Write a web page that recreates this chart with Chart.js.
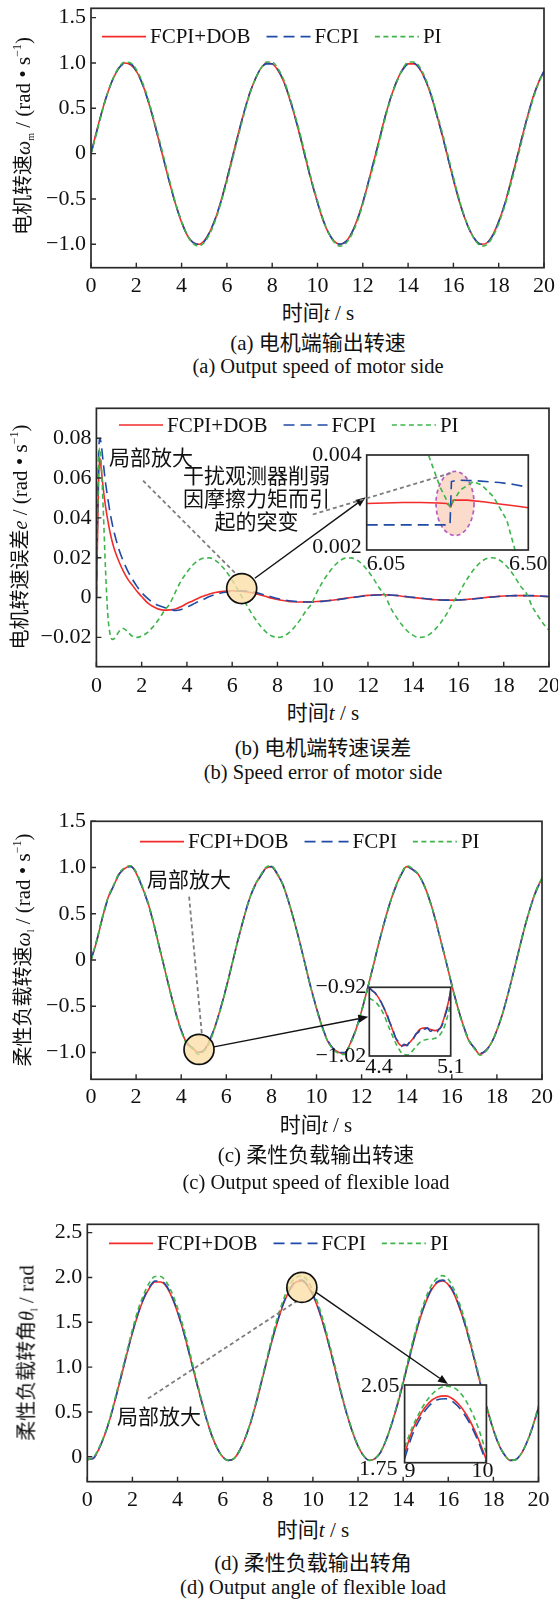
<!DOCTYPE html>
<html lang="zh">
<head>
<meta charset="utf-8">
<title>FCPI+DOB 仿真结果</title>
<script src="https://cdn.jsdelivr.net/npm/chart.js"></script>
<style>
  body { margin: 0; background: #fff; }
  #page { position: relative; width: 558px; height: 1600px; overflow: hidden;
          font-family: "Liberation Serif", "Noto Sans CJK SC", serif; color: #111; }
  canvas { position: absolute; left: 0; }
  .t { position: absolute; white-space: nowrap; transform: translate(-50%, -50%); line-height: 1; }
  .xt, .cap { font-size: 21px; }
  .en { font-size: 20.5px; }
  .yt { font-size: 20px; transform: translate(-50%, -50%) rotate(-90deg); }
  .yt .l { font-size: 21px; }
  sub { font-size: 10px; vertical-align: -4px; }
  sup { font-size: 12px; vertical-align: 9px; }
</style>
</head>
<body>
<div id="page">
  <canvas id="cA" width="558" height="300" style="top:0px"></canvas>
  <canvas id="cB" width="558" height="300" style="top:400px"></canvas>
  <canvas id="cBi" width="558" height="300" style="top:400px"></canvas>
  <canvas id="cC" width="558" height="300" style="top:813px"></canvas>
  <canvas id="cCi" width="558" height="300" style="top:813px"></canvas>
  <canvas id="cD" width="558" height="300" style="top:1216px"></canvas>
  <canvas id="cDi" width="558" height="300" style="top:1216px"></canvas>

  <div class="t yt" style="left:23px;top:136px">电机转速<i>ω</i><sub>m</sub><span class="l"> / (rad • s<sup>−1</sup>)</span></div>
  <div class="t xt" style="left:318px;top:313px">时间<i>t</i> / s</div>
  <div class="t cap" style="left:318px;top:343px">(a) 电机端输出转速</div>
  <div class="t en" style="left:318px;top:366px">(a) Output speed of motor side</div>

  <div class="t yt" style="left:19px;top:537px">电机转速误差<i>e</i><span class="l"> / (rad • s<sup>−1</sup>)</span></div>
  <div class="t xt" style="left:323px;top:713px">时间<i>t</i> / s</div>
  <div class="t cap" style="left:323px;top:748px">(b) 电机端转速误差</div>
  <div class="t en" style="left:323px;top:772px">(b) Speed error of motor side</div>

  <div class="t yt" style="left:23px;top:950px">柔性负载转速<i>ω</i><sub>l</sub><span class="l"> / (rad • s<sup>−1</sup>)</span></div>
  <div class="t xt" style="left:316px;top:1125px">时间<i>t</i> / s</div>
  <div class="t cap" style="left:316px;top:1155px">(c) 柔性负载输出转速</div>
  <div class="t en" style="left:316px;top:1182px">(c) Output speed of flexible load</div>

  <div class="t yt" style="left:28px;top:1353px">柔性负载转角<i>θ</i><sub>l</sub><span class="l"> / rad</span></div>
  <div class="t xt" style="left:313px;top:1530px">时间<i>t</i> / s</div>
  <div class="t cap" style="left:313px;top:1563px">(d) 柔性负载输出转角</div>
  <div class="t en" style="left:313px;top:1587px">(d) Output angle of flexible load</div>
</div>
<script>
// ---- data ----
const seriesNames = ['FCPI+DOB', 'FCPI', 'PI'];

const tGrid = [0,0.25,0.5,0.75,1,1.25,1.5,1.75,2,2.25,2.5,2.75,3,3.25,3.5,3.75,4,4.25,4.5,4.75,
  5,5.25,5.5,5.75,6,6.25,6.5,6.75,7,7.25,7.5,7.75,8,8.25,8.5,8.75,9,9.25,9.5,9.75,
  10,10.25,10.5,10.75,11,11.25,11.5,11.75,12,12.25,12.5,12.75,13,13.25,13.5,13.75,14,14.25,14.5,14.75,
  15,15.25,15.5,15.75,16,16.25,16.5,16.75,17,17.25,17.5,17.75,18,18.25,18.5,18.75,19,19.25,19.5,19.75,20];

// (a) motor speed
const speedDob = [0,0.25,0.48,0.68,0.84,0.95,1.0,0.98,0.91,0.78, 0.6,0.38,0.14,-0.11,-0.35,-0.57,-0.76,-0.9,-0.98,-1.0,
  -0.96,-0.86,-0.71,-0.51,-0.28,-0.03,0.22,0.45,0.66,0.82, 0.94,1.0,0.99,0.92,0.8,0.62,0.41,0.17,-0.08,-0.32,
  -0.54,-0.74,-0.88,-0.97,-1.0,-0.97,-0.88,-0.73,-0.54,-0.31, -0.07,0.18,0.42,0.63,0.8,0.93,0.99,0.99,0.94,0.82,
  0.65,0.44,0.21,-0.04,-0.29,-0.52,-0.71,-0.86,-0.96,-1.0, -0.98,-0.89,-0.75,-0.57,-0.34,-0.1,0.15,0.39,0.61,0.78,0.91];
const speedFcpi = [0,0.24,0.48,0.68,0.84,0.95,0.99,0.99,0.91,0.78, 0.6,0.39,0.14,-0.1,-0.35,-0.57,-0.75,-0.9,-0.98,-1.0,
  -0.97,-0.86,-0.71,-0.52,-0.28,-0.04,0.21,0.45,0.66,0.82, 0.94,0.99,0.99,0.93,0.8,0.63,0.41,0.18,-0.08,-0.32,
  -0.54,-0.73,-0.88,-0.97,-1.0,-0.97,-0.88,-0.74,-0.54,-0.31, -0.07,0.17,0.42,0.63,0.8,0.92,0.99,1.0,0.94,0.82,
  0.66,0.44,0.21,-0.04,-0.28,-0.51,-0.71,-0.86,-0.96,-1.0, -0.98,-0.9,-0.75,-0.57,-0.35,-0.1,0.15,0.39,0.6,0.78,0.91];
const speedPi = [0,0.23,0.47,0.68,0.84,0.96,1.01,1.0,0.93,0.8, 0.62,0.4,0.17,-0.08,-0.33,-0.56,-0.75,-0.9,-0.99,-1.02,
  -0.98,-0.88,-0.73,-0.53,-0.31,-0.06,0.19,0.43,0.65,0.82, 0.94,1.01,1.01,0.94,0.82,0.64,0.43,0.2,-0.05,-0.3,
  -0.52,-0.73,-0.88,-0.98,-1.02,-0.99,-0.9,-0.75,-0.56,-0.33, -0.1,0.15,0.4,0.62,0.79,0.93,1.01,1.01,0.96,0.84,
  0.67,0.46,0.24,-0.01,-0.26,-0.5,-0.7,-0.86,-0.97,-1.02, -1.0,-0.91,-0.77,-0.59,-0.37,-0.13,0.12,0.37,0.59,0.77,0.91];

// (b) motor speed error
const tErr = [0,0.05,0.1,0.15,0.2,0.3,0.4,0.5,0.6,0.7,0.8,1,1.2,1.4,1.6,1.8,2,
  2.25,2.5,2.75,3,3.25,3.5,3.75,4,4.25,4.5,4.75, 5,5.25,5.5,5.75,6,6.25,6.5,6.75,7,7.25,7.5,
  7.75,8,8.25,8.5,8.75,9,9.25,9.5,9.75,10,10.25, 10.5,10.75,11,11.25,11.5,11.75,12,12.25,12.5,12.75,13,
  13.25,13.5,13.75,14,14.25,14.5,14.75,15,15.25,15.5,15.75, 16,16.25,16.5,16.75,17,17.25,17.5,17.75,18,18.25,18.5,
  18.75,19,19.25,19.5,19.75,20];
const errDob = [0,0.03,0.06,0.07,0.066,0.055,0.046,0.039,0.033,0.028,0.024,0.018,0.013,0.009,0.006,0.003,0.0005,
  -0.0025,-0.0045,-0.0058,-0.0063,-0.0062,-0.0057,-0.0045,-0.003,-0.0017,-0.0003,0.0008,
  0.0018,0.0025,0.003,0.0033,0.0034,0.0033,0.0031,0.0027,0.0021,0.0013,0.0005,
  -0.0003,-0.001,-0.0015,-0.0019,-0.0021,-0.0022,-0.0022,-0.0021,-0.002,-0.0018,-0.0015,
  -0.0012,-0.0008,-0.0004,0,0.0004,0.0008,0.0011,0.0013,0.0014,0.0014,0.0012,
  0.001,0.0007,0.0003,0,-0.0003,-0.0006,-0.0009,-0.0011,-0.0012,-0.0013,-0.0013,
  -0.0012,-0.001,-0.0008,-0.0005,-0.0002,0.0001,0.0004,0.0006,0.0008,0.0009,0.001,
  0.001,0.001,0.0009,0.0008,0.0006,0.0004];
const errFcpi = [0,0.04,0.072,0.08,0.078,0.068,0.058,0.05,0.043,0.037,0.032,0.024,0.018,0.013,0.009,0.0055,0.0025,
  -0.0003,-0.0025,-0.004,-0.005,-0.0058,-0.0065,-0.006,-0.0048,-0.0035,-0.002,-0.0008,
  0.0005,0.0015,0.0023,0.0028,0.0031,0.0033,0.0033,0.0031,0.0026,0.0019,0.0011,
  0.0003,-0.0005,-0.0011,-0.0016,-0.0019,-0.0021,-0.0022,-0.0022,-0.0021,-0.0019,-0.0016,
  -0.0013,-0.0009,-0.0005,-0.0001,0.0003,0.0007,0.001,0.0012,0.0013,0.0014,0.0013,
  0.0011,0.0008,0.0004,0.0001,-0.0002,-0.0005,-0.0008,-0.001,-0.0012,-0.0013,-0.0013,
  -0.0012,-0.0011,-0.0009,-0.0006,-0.0003,0,0.0003,0.0005,0.0007,0.0009,0.001,
  0.001,0.001,0.001,0.0009,0.0007,0.0005];
const errPi = [0,0.04,0.068,0.075,0.07,0.045,0.015,-0.008,-0.018,-0.021,-0.0205,-0.017,-0.0155,-0.0175,-0.0195,-0.02,-0.0193,
  -0.0176,-0.0147,-0.011,-0.0067,-0.003,0.003,0.0085,0.0127,0.0162,0.0186,0.0198,
  0.0199,0.0187,0.0163,0.0129,0.0087,0.004,-0.001,-0.0059,-0.0104,-0.0143,-0.0173,
  -0.0193,-0.02,-0.0195,-0.0177,-0.0149,-0.0112,-0.0068,-0.0032,0.0028,0.0079,0.0122,
  0.0158,0.0184,0.0198,0.0199,0.0189,0.0167,0.0134,0.0094,0.0048,0.0012,-0.0051,
  -0.0097,-0.0137,-0.0169,-0.019,-0.02,-0.0197,-0.0182,-0.0156,-0.0121,-0.0078,-0.0025,
  0.0015,0.0069,0.0113,0.0151,0.0179,0.0196,0.02,0.0192,0.0172,0.0141,0.0102,
  0.0056,0.0022,-0.0043,-0.009,-0.0131,-0.0164];

// (b) zoom window 6.05 - 6.50 s
const zoomErrDobT = [6.05,6.1,6.15,6.2,6.25,6.273,6.284,6.291,6.33,6.38,6.42,6.46,6.5];
const zoomErrDob  = [0.00298,0.00299,0.003,0.003,0.00299,0.00298,0.00291,0.00305,0.00305,0.00301,0.00297,0.00293,0.00289];
const zoomErrFcpiT = [6.05,6.2,6.282,6.286,6.3,6.35,6.42,6.46,6.5];
const zoomErrFcpi  = [0.00253,0.00253,0.00253,0.00344,0.00347,0.00346,0.00342,0.00338,0.00332];
const zoomErrPiT = [6.15,6.2,6.222,6.254,6.282,6.31,6.347,6.37,6.403,6.44,6.463,6.48];
const zoomErrPi  = [0.0055,0.0045,0.004,0.00333,0.00291,0.00326,0.00344,0.00337,0.00312,0.00263,0.002,0.0016];

// (c) load speed
const loadDob = [0,0.2,0.45,0.67,0.8,0.93,0.99,1.02,0.94,0.8, 0.64,0.42,0.17,-0.08,-0.33,-0.56,-0.76,-0.9,-0.95,-1.0,
  -0.98,-0.88,-0.72,-0.52,-0.3,-0.05,0.2,0.43,0.64,0.8, 0.9,0.99,1.01,0.93,0.82,0.64,0.43,0.2,-0.05,-0.3,
  -0.52,-0.72,-0.88,-0.96,-1.0,-1.01,-0.9,-0.75,-0.55,-0.32, -0.08,0.17,0.4,0.61,0.79,0.92,1.01,0.98,0.93,0.82,
  0.66,0.46,0.22,-0.02,-0.27,-0.5,-0.7,-0.87,-0.95,-1.02, -0.98,-0.9,-0.76,-0.58,-0.36,-0.12,0.13,0.37,0.58,0.76,0.88];
const loadFcpi = [0,0.21,0.45,0.66,0.8,0.93,0.99,1.01,0.95,0.8, 0.63,0.42,0.17,-0.08,-0.33,-0.57,-0.76,-0.89,-0.95,-1.0,
  -0.98,-0.87,-0.72,-0.52,-0.29,-0.05,0.2,0.43,0.64,0.79, 0.9,0.99,1.01,0.94,0.82,0.64,0.43,0.2,-0.05,-0.3,
  -0.52,-0.72,-0.87,-0.96,-1.0,-1.0,-0.9,-0.75,-0.55,-0.32, -0.08,0.17,0.4,0.61,0.78,0.92,1.01,0.98,0.93,0.82,
  0.66,0.45,0.22,-0.02,-0.27,-0.5,-0.7,-0.86,-0.95,-1.01, -0.98,-0.9,-0.76,-0.58,-0.36,-0.12,0.13,0.37,0.58,0.75,0.88];
const loadPi = [0,0.21,0.46,0.67,0.81,0.94,1.0,1.02,0.95,0.81, 0.64,0.43,0.17,-0.08,-0.33,-0.57,-0.77,-0.91,-0.96,-1.02,
  -0.99,-0.89,-0.73,-0.53,-0.3,-0.05,0.2,0.43,0.64,0.8, 0.91,1.0,1.02,0.94,0.82,0.64,0.43,0.2,-0.05,-0.3,
  -0.53,-0.73,-0.88,-0.97,-1.01,-1.02,-0.91,-0.76,-0.55,-0.32, -0.08,0.17,0.4,0.61,0.79,0.93,1.02,0.99,0.93,0.82,
  0.66,0.46,0.22,-0.02,-0.27,-0.51,-0.71,-0.87,-0.96,-1.03, -0.99,-0.9,-0.76,-0.58,-0.36,-0.12,0.13,0.37,0.58,0.76,0.89];

// (c) zoom window 4.4 - 5.1 s
const zoomLoadDobT = [4.4,4.463,4.52,4.578,4.635,4.678,4.72,4.779,4.836,4.879,4.922,4.965,5.008,5.051,5.094,5.1];
const zoomLoadDob  = [-0.921,-0.931,-0.948,-0.972,-0.997,-1.005,-1.004,-0.994,-0.981,-0.979,-0.981,-0.983,-0.98,-0.96,-0.931,-0.925];
const zoomLoadFcpiT = [4.4,4.425,4.45,4.475,4.5,4.525,4.55,4.575,4.6,4.625,4.65,4.675,4.7,4.725,4.75,4.775,4.8,4.825,4.85,4.875,4.9,4.925,4.95,4.975,5,5.025,5.05,5.075,5.1];
const zoomLoadFcpi  = [-0.92,-0.925,-0.928,-0.935,-0.941,-0.95,-0.958,-0.971,-0.98,-0.993,-0.999,-1.006,-1.003,-1.005,-0.998,-0.996,-0.988,-0.985,-0.978,-0.981,-0.979,-0.984,-0.982,-0.986,-0.981,-0.976,-0.962,-0.948,-0.924];
const zoomLoadPiT = [4.4,4.463,4.52,4.578,4.635,4.693,4.736,4.779,4.836,4.893,4.95,5.008,5.051,5.094,5.1];
const zoomLoadPi  = [-0.936,-0.943,-0.958,-0.982,-1.004,-1.0176,-1.0185,-1.011,-1.0,-0.996,-0.995,-0.989,-0.975,-0.948,-0.944];

// (d) load angle
const angleDob = [-0.03,-0.02,0.08,0.23,0.42,0.65,0.89,1.14,1.38,1.59, 1.76,1.88,1.95,1.95,1.9,1.78,1.61,1.41,1.17,0.92,
  0.68,0.45,0.25,0.1,0.0,-0.04,-0.02,0.07,0.21,0.39, 0.61,0.86,1.11,1.35,1.56,1.74,1.87,1.95,1.96,1.91,
  1.8,1.64,1.44,1.21,0.96,0.71,0.48,0.28,0.12,0.01, -0.04,-0.02,0.05,0.19,0.37,0.58,0.82,1.07,1.32,1.54,
  1.72,1.86,1.94,1.96,1.92,1.82,1.66,1.47,1.24,0.99, 0.74,0.51,0.3,0.13,0.02,-0.04,-0.03,0.04,0.17,0.34,0.55];
const angleFcpi = [-0.03,-0.02,0.08,0.23,0.42,0.65,0.9,1.15,1.39,1.6, 1.77,1.89,1.96,1.96,1.91,1.79,1.62,1.41,1.17,0.92,
  0.68,0.45,0.25,0.1,0.0,-0.04,-0.02,0.07,0.21,0.39, 0.62,0.87,1.12,1.36,1.57,1.75,1.88,1.96,1.97,1.92,
  1.81,1.65,1.45,1.21,0.96,0.71,0.48,0.28,0.12,0.01, -0.04,-0.02,0.05,0.19,0.37,0.59,0.83,1.08,1.33,1.55,
  1.73,1.87,1.95,1.97,1.93,1.83,1.67,1.47,1.24,0.99, 0.74,0.51,0.3,0.13,0.02,-0.04,-0.03,0.04,0.17,0.34,0.55];
const anglePi = [-0.03,-0.01,0.09,0.24,0.43,0.67,0.92,1.17,1.42,1.64, 1.81,1.94,2.01,2.01,1.95,1.83,1.66,1.45,1.21,0.95,
  0.7,0.46,0.26,0.1,0.0,-0.04,-0.02,0.07,0.21,0.4, 0.63,0.88,1.14,1.39,1.61,1.79,1.93,2.0,2.02,1.97,
  1.85,1.69,1.48,1.24,0.99,0.73,0.49,0.29,0.12,0.01, -0.04,-0.02,0.06,0.19,0.38,0.6,0.85,1.11,1.36,1.58,
  1.77,1.91,1.99,2.02,1.98,1.87,1.71,1.51,1.27,1.02, 0.76,0.52,0.31,0.14,0.02,-0.04,-0.03,0.04,0.17,0.35,0.57];

// (d) zoom window 9 - 10 s
const zoomAngleT = [9,9.1,9.2,9.3,9.4,9.5,9.6,9.7,9.8,9.9,10];
const zoomAngleDob  = [1.785,1.879,1.94,1.982,2.004,2.008,1.994,1.961,1.911,1.843,1.76];
const zoomAngleFcpi = [1.765,1.862,1.926,1.97,1.993,1.997,1.983,1.95,1.9,1.832,1.75];
const zoomAnglePi   = [1.81,1.891,1.954,2.002,2.032,2.045,2.04,2.012,1.96,1.885,1.786];

// tick labels
const xTickVals = [0,2,4,6,8,10,12,14,16,18,20];
const xTickText = ['0','2','4','6','8','10','12','14','16','18','20'];
const speedTickVals = [-1,-0.5,0,0.5,1,1.5];
const speedTickText = ['−1.0','−0.5','0','0.5','1.0','1.5'];
const errTickVals = [-0.02,0,0.02,0.04,0.06,0.08];
const errTickText = ['−0.02','0','0.02','0.04','0.06','0.08'];
const angleTickVals = [0,0.5,1,1.5,2,2.5];
const angleTickText = ['0','0.5','1.0','1.5','2.0','2.5'];
const zoomErrXText = ['6.05','6.50'], zoomErrYText = ['0.002','0.004'];
const zoomLoadXText = ['4.4','5.1'], zoomLoadYText = ['−1.02','−0.92'];
const zoomAngleXText = ['9','10'], zoomAngleYText = ['1.75','2.05'];

const zoomNote = '局部放大';
const dobNote = ['干扰观测器削弱', '因摩擦力矩而引', '起的突变'];

// ---- drawing ----
const RED = '#f22b2b', BLUE = '#1f4aa6', GREEN = '#3db54a';
const TICK_FONT = '22px "Liberation Serif", "Noto Sans CJK SC"';
const TEXT_FONT = '21px "Liberation Serif", "Noto Sans CJK SC"';
const INK = '#111';

function pts(xs, ys) { return xs.map((x, i) => ({ x: x, y: ys[i] })); }

function threeLines(tx, a, b, c, opt) {
  opt = opt || {};
  const w = opt.width || 1.6;
  const base = { pointRadius: 0, fill: false, borderWidth: w, cubicInterpolationMode: opt.linear ? 'default' : 'monotone', tension: 0 };
  const t = Array.isArray(tx[0]) ? tx : [tx, tx, tx];
  return [
    Object.assign({}, base, { label: seriesNames[0], data: pts(t[0], a), borderColor: RED, borderDash: [], order: 3 }),
    Object.assign({}, base, { label: seriesNames[1], data: pts(t[1], b), borderColor: BLUE, borderDash: [11, 6], order: 2 }),
    Object.assign({}, base, { label: seriesNames[2], data: pts(t[2], c), borderColor: GREEN, borderDash: [5, 3.5], order: 1 })
  ];
}

function tickList(vals, text) { return vals.map((v, i) => ({ v: v, t: text[i] })); }

function drawLegend(ctx, chart, lg) {
  ctx.font = TEXT_FONT; ctx.textBaseline = 'middle'; ctx.textAlign = 'left';
  let x = lg.x;
  chart.data.datasets.forEach(ds => {
    ctx.strokeStyle = ds.borderColor; ctx.lineWidth = 1.7;
    ctx.setLineDash(ds.borderDash || []);
    ctx.beginPath(); ctx.moveTo(x, lg.y); ctx.lineTo(x + 44, lg.y); ctx.stroke();
    ctx.setLineDash([]);
    ctx.fillStyle = INK;
    ctx.fillText(ds.label, x + 48, lg.y + 1);
    x += 48 + ctx.measureText(ds.label).width + 16;
  });
}

function framePlugin(cfg) {
  return {
    id: 'frame',
    beforeDraw(chart) {
      if (!cfg.white) return;
      const a = chart.chartArea, ctx = chart.ctx;
      ctx.save(); ctx.fillStyle = '#fff'; ctx.fillRect(a.left, a.top, a.width, a.height); ctx.restore();
    },
    beforeDatasetsDraw(chart) { if (cfg.under) cfg.under(chart); },
    afterDatasetsDraw(chart) {
      const ctx = chart.ctx, a = chart.chartArea, sx = chart.scales.x, sy = chart.scales.y;
      ctx.save();
      ctx.setLineDash([]);
      ctx.strokeStyle = '#2a2a2a'; ctx.lineWidth = 1.7;
      ctx.strokeRect(a.left, a.top, a.width, a.height);
      if (cfg.innerTicks) {
        ctx.lineWidth = 1.4; ctx.beginPath();
        cfg.xTicks.forEach(t => { const p = sx.getPixelForValue(t.v); ctx.moveTo(p, a.bottom); ctx.lineTo(p, a.bottom - 5); });
        cfg.yTicks.forEach(t => { const p = sy.getPixelForValue(t.v); ctx.moveTo(a.left, p); ctx.lineTo(a.left + 5, p); });
        ctx.stroke();
      }
      ctx.fillStyle = INK; ctx.font = cfg.font || TICK_FONT; ctx.textBaseline = 'middle';
      cfg.xTicks.forEach(t => {
        ctx.textAlign = t.align || 'center';
        ctx.fillText(t.t, sx.getPixelForValue(t.v) + (t.dx || 0), a.bottom + cfg.xDy);
      });
      cfg.yTicks.forEach(t => {
        ctx.textAlign = 'right';
        ctx.fillText(t.t, a.left - (t.dx || cfg.yDx), sy.getPixelForValue(t.v) + (t.dy || 0));
      });
      if (cfg.legend) drawLegend(ctx, chart, cfg.legend);
      ctx.restore();
      if (cfg.over) cfg.over(chart);
    }
  };
}

function makeChart(id, datasets, yMin, yMax, xMin, xMax, pad, cfg) {
  return new Chart(document.getElementById(id), {
    type: 'line',
    data: { datasets: datasets },
    options: {
      responsive: false, animation: false, events: [], devicePixelRatio: 1,
      layout: { padding: pad },
      plugins: { legend: { display: false }, tooltip: { enabled: false } },
      scales: {
        x: { type: 'linear', min: xMin, max: xMax, display: false },
        y: { type: 'linear', min: yMin, max: yMax, display: false }
      }
    },
    plugins: [framePlugin(cfg)]
  });
}

// helpers for the call-outs
function lens(ctx, x, y, r) {
  ctx.save(); ctx.setLineDash([]);
  ctx.beginPath(); ctx.arc(x, y, r, 0, Math.PI * 2);
  ctx.fillStyle = 'rgba(250,222,165,0.78)'; ctx.fill();
  ctx.lineWidth = 1.7; ctx.strokeStyle = '#111'; ctx.stroke();
  ctx.restore();
}
function greyDash(ctx, x1, y1, x2, y2) {
  ctx.save(); ctx.strokeStyle = '#7d7d7d'; ctx.lineWidth = 1.8; ctx.setLineDash([4, 3]);
  ctx.beginPath(); ctx.moveTo(x1, y1); ctx.lineTo(x2, y2); ctx.stroke(); ctx.restore();
}
function arrow(ctx, x1, y1, x2, y2) {
  const a = Math.atan2(y2 - y1, x2 - x1), L = 10, W = 4;
  const bx = x2 - L * Math.cos(a), by = y2 - L * Math.sin(a);
  ctx.save(); ctx.setLineDash([]); ctx.strokeStyle = '#111'; ctx.fillStyle = '#111'; ctx.lineWidth = 1.4;
  ctx.beginPath(); ctx.moveTo(x1, y1); ctx.lineTo(bx, by); ctx.stroke();
  ctx.beginPath(); ctx.moveTo(x2, y2);
  ctx.lineTo(bx + W * Math.sin(a), by - W * Math.cos(a));
  ctx.lineTo(bx - W * Math.sin(a), by + W * Math.cos(a));
  ctx.closePath(); ctx.fill(); ctx.restore();
}
function label(ctx, text, x, y, align) {
  ctx.save(); ctx.font = TEXT_FONT; ctx.fillStyle = INK;
  ctx.textAlign = align || 'center'; ctx.textBaseline = 'middle';
  ctx.fillText(text, x, y); ctx.restore();
}

const xTicks = tickList(xTickVals, xTickText);

// (a)
makeChart('cA', threeLines(tGrid, speedDob, speedFcpi, speedPi), -1.258, 1.603, 0, 20,
  { left: 91, right: 14, top: 8.3, bottom: 32.3 },
  { innerTicks: true, xTicks: xTicks, yTicks: tickList(speedTickVals, speedTickText), xDy: 18.5, yDx: 5,
    legend: { x: 102, y: 36.7 } });

// (b)
const chartB = makeChart('cB', threeLines(tErr, errDob, errFcpi, errPi), -0.0347, 0.095, 0, 20,
  { left: 96.4, right: 9, top: 8.3, bottom: 33.3 },
  { innerTicks: true, xTicks: xTicks, yTicks: tickList(errTickVals, errTickText), xDy: 19.5, yDx: 5,
    legend: { x: 119, y: 25 } });

makeChart('cBi', threeLines([zoomErrDobT, zoomErrFcpiT, zoomErrPiT], zoomErrDob, zoomErrFcpi, zoomErrPi, { linear: true, width: 1.6 }),
  0.002, 0.004, 6.05, 6.5,
  { left: 366.7, right: 29.7, top: 55, bottom: 150 },
  { white: true, xDy: 14, yDx: 5,
    xTicks: [{ v: 6.05, t: zoomErrXText[0], align: 'left' }, { v: 6.5, t: zoomErrXText[1] }],
    yTicks: [{ v: 0.002, t: zoomErrYText[0], dy: -3 }, { v: 0.004, t: zoomErrYText[1] }],
    under: ch => {
      const c = ch.ctx, ex = ch.scales.x.getPixelForValue(6.296), ey = ch.scales.y.getPixelForValue(0.00298);
      c.save(); c.beginPath(); c.ellipse(ex, ey, 19, 32, 0, 0, Math.PI * 2);
      c.fillStyle = '#fbdccc'; c.fill();
      c.setLineDash([4, 3]); c.lineWidth = 1.7; c.strokeStyle = '#b45cc0'; c.stroke(); c.restore();
    },
    over: ch => {
      const c = ch.ctx, mx = chartB.scales.x, my = chartB.scales.y, ix = ch.scales.x, iy = ch.scales.y;
      greyDash(c, mx.getPixelForValue(2.06), my.getPixelForValue(0.0587), mx.getPixelForValue(6.23), my.getPixelForValue(0.0112));
      lens(c, mx.getPixelForValue(6.42), my.getPixelForValue(0.0045), 15);
      arrow(c, mx.getPixelForValue(7.0), my.getPixelForValue(0.0097), ch.chartArea.left - 1, iy.getPixelForValue(0.00311));
      label(c, zoomNote, mx.getPixelForValue(0.556), my.getPixelForValue(0.0695), 'left');
      const noteY = [0.0603, 0.0487, 0.0373];
      dobNote.forEach((s, i) => label(c, s, mx.getPixelForValue(7.08), my.getPixelForValue(noteY[i])));
      greyDash(c, mx.getPixelForValue(9.56), my.getPixelForValue(0.0417),
        ix.getPixelForValue(6.29), iy.getPixelForValue(0.00298) - 31);
    }
  });

// (c)
const chartC = makeChart('cC', threeLines(tGrid, loadDob, loadFcpi, loadPi), -1.29, 1.5, 0, 20,
  { left: 91, right: 16, top: 8.3, bottom: 33.7 },
  { innerTicks: true, xTicks: xTicks, yTicks: tickList(speedTickVals, speedTickText), xDy: 17.5, yDx: 5,
    legend: { x: 140, y: 28.7 } });

makeChart('cCi', threeLines([zoomLoadDobT, zoomLoadFcpiT, zoomLoadPiT], zoomLoadDob, zoomLoadFcpi, zoomLoadPi, { width: 1.6 }),
  -1.02, -0.92, 4.4, 5.1,
  { left: 369.3, right: 107.3, top: 174.3, bottom: 57 },
  { white: true, xDy: 11, yDx: 3,
    xTicks: [{ v: 4.4, t: zoomLoadXText[0], align: 'left', dx: -4 }, { v: 5.1, t: zoomLoadXText[1] }],
    yTicks: [{ v: -1.02, t: zoomLoadYText[0] }, { v: -0.92, t: zoomLoadYText[1] }],
    over: ch => {
      const c = ch.ctx, mx = chartC.scales.x, my = chartC.scales.y, iy = ch.scales.y;
      label(c, zoomNote, mx.getPixelForValue(4.35), my.getPixelForValue(0.848));
      greyDash(c, mx.getPixelForValue(4.35), my.getPixelForValue(0.686), mx.getPixelForValue(4.92), my.getPixelForValue(-0.813));
      lens(c, mx.getPixelForValue(4.79), my.getPixelForValue(-0.967), 15);
      arrow(c, mx.getPixelForValue(5.45), my.getPixelForValue(-0.939), ch.chartArea.left - 1, iy.getPixelForValue(-0.963));
    }
  });

// (d)
const chartD = makeChart('cD', threeLines(tGrid, angleDob, angleFcpi, anglePi), -0.278, 2.593, 0, 20,
  { left: 87.3, right: 19.5, top: 8.3, bottom: 34.3 },
  { innerTicks: true, xTicks: xTicks, yTicks: tickList(angleTickVals, angleTickText), xDy: 18.5, yDx: 5,
    legend: { x: 109, y: 27.3 } });

makeChart('cDi', threeLines(zoomAngleT, zoomAngleDob, zoomAngleFcpi, zoomAnglePi, { width: 1.6 }),
  1.75, 2.05, 9, 10,
  { left: 404.6, right: 71.6, top: 169, bottom: 53.3 },
  { white: true, xDy: 9, yDx: 5,
    xTicks: [{ v: 9, t: zoomAngleXText[0], align: 'left' }, { v: 10, t: zoomAngleXText[1], dx: -4 }],
    yTicks: [{ v: 1.75, t: zoomAngleYText[0], dy: 7, dx: 7 }, { v: 2.05, t: zoomAngleYText[1], dy: 1 }],
    over: ch => {
      const c = ch.ctx, mx = chartD.scales.x, my = chartD.scales.y, ix = ch.scales.x;
      label(c, zoomNote, mx.getPixelForValue(3.18), my.getPixelForValue(0.427));
      greyDash(c, mx.getPixelForValue(2.69), my.getPixelForValue(0.649), mx.getPixelForValue(9.43), my.getPixelForValue(1.76));
      lens(c, mx.getPixelForValue(9.51), my.getPixelForValue(1.889), 15);
      arrow(c, mx.getPixelForValue(10.14), my.getPixelForValue(1.833), ix.getPixelForValue(9.53), ch.chartArea.top - 1);
    }
  });
</script>
</body>
</html>
